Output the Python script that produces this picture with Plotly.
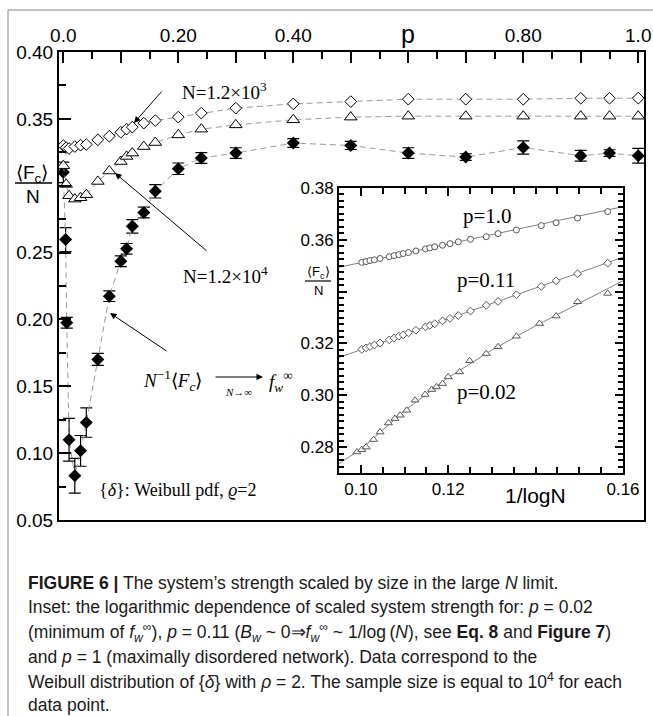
import plotly.graph_objects as go

# ---------------- data ----------------
# main plot: scaled strength vs p
p_open = [0, 0.005, 0.01, 0.02, 0.03, 0.04, 0.06, 0.08, 0.10, 0.11, 0.12, 0.14,
          0.16, 0.20, 0.24, 0.30, 0.40, 0.50, 0.60, 0.70, 0.80, 0.90, 0.95, 1.0]
f_n1e3 = [0.3300, 0.3285, 0.3278, 0.3293, 0.3303, 0.3308, 0.3343, 0.3370, 0.3400,
          0.3423, 0.3438, 0.3468, 0.3487, 0.3513, 0.3543, 0.3580, 0.3612, 0.3629,
          0.3647, 0.3647, 0.3647, 0.3654, 0.3654, 0.3655]
f_n1e4 = [0.3150, 0.3010, 0.2925, 0.2900, 0.2910, 0.2933, 0.3032, 0.3110, 0.3181,
          0.3219, 0.3244, 0.3293, 0.3323, 0.3380, 0.3423, 0.3455, 0.3493, 0.3513,
          0.3520, 0.3520, 0.3520, 0.3520, 0.3520, 0.3520]
p_inf = [0, 0.004, 0.006, 0.01, 0.02, 0.03, 0.04, 0.06, 0.08, 0.10, 0.11, 0.12,
         0.14, 0.16, 0.20, 0.24, 0.30, 0.40, 0.50, 0.60, 0.70, 0.80, 0.90, 0.95, 1.0]
f_inf = [0.3100, 0.2597, 0.1975, 0.1100, 0.0831, 0.1017, 0.1229, 0.1701, 0.2174,
         0.2435, 0.2528, 0.2696, 0.2800, 0.2958, 0.3127, 0.3207, 0.3244, 0.3319,
         0.3301, 0.3244, 0.3214, 0.3286, 0.3224, 0.3244, 0.3224]
f_inf_err = [0.0077, 0.009, 0.004, 0.016, 0.013, 0.0115, 0.011, 0.0045, 0.004,
             0.004, 0.004, 0.005, 0.004, 0.005, 0.0043, 0.004, 0.004, 0.0033,
             0.003, 0.004, 0.0025, 0.005, 0.004, 0.0025, 0.0055]

# inset: scaled strength vs 1/logN
x_c = [0.1002, 0.1012, 0.1021, 0.1031, 0.1044, 0.1065, 0.1076, 0.1087, 0.1097,
       0.1109, 0.1126, 0.1148, 0.1158, 0.1169, 0.1187, 0.1204, 0.1223, 0.1251,
       0.1287, 0.1314, 0.1356, 0.1413, 0.1447, 0.1496, 0.1565]
y_p10 = [0.3513, 0.3516, 0.3520, 0.3523, 0.3528, 0.3535, 0.3539, 0.3543, 0.3547,
         0.3551, 0.3557, 0.3565, 0.3569, 0.3573, 0.3579, 0.3585, 0.3592, 0.3602,
         0.3612, 0.3624, 0.3638, 0.3655, 0.3666, 0.3684, 0.3709]
y_p011 = [0.3177, 0.3183, 0.3188, 0.3194, 0.3202, 0.3214, 0.3221, 0.3228, 0.3233,
          0.3241, 0.3251, 0.3264, 0.3270, 0.3276, 0.3287, 0.3297, 0.3308, 0.3325,
          0.3347, 0.3362, 0.3388, 0.3420, 0.3442, 0.3469, 0.3510]
x_t = [0.0991, 0.1002, 0.1012, 0.1029, 0.1044, 0.1063, 0.1078, 0.1090, 0.1105,
       0.1124, 0.1147, 0.1162, 0.1173, 0.1187, 0.1200, 0.1226, 0.1249, 0.1287,
       0.1314, 0.1356, 0.1409, 0.1447, 0.1496, 0.1565]
y_p002 = [0.2781, 0.2790, 0.2800, 0.2829, 0.2858, 0.2893, 0.2910, 0.2923, 0.2942,
          0.2981, 0.3003, 0.3022, 0.3032, 0.3045, 0.3071, 0.3090, 0.3133, 0.3161,
          0.3187, 0.3228, 0.3277, 0.3306, 0.3361, 0.3393]
# fitted lines
fit_x = [0.095, 0.10, 0.11, 0.12, 0.13, 0.14, 0.15, 0.16]
fit_p10 = [0.3494, 0.3512, 0.3548, 0.3584, 0.3620, 0.3656, 0.3692, 0.3728]
fit_p011 = [0.3146, 0.3176, 0.3235, 0.3295, 0.3354, 0.3414, 0.3473, 0.3533]
fit_p002 = [0.2736, 0.2792, 0.2940, 0.3068, 0.3175, 0.3268, 0.3355, 0.3442]

main_xticks = [0.0, 0.1, 0.2, 0.3, 0.4, 0.5, 0.6, 0.7, 0.8, 0.9, 1.0]
main_xtext = ["0.0", "", "0.20", "", "0.40", "", "", "", "0.80", "", "1.0"]
main_yticks = [0.05, 0.10, 0.15, 0.20, 0.25, 0.30, 0.35, 0.40]
main_ytext = ["0.05", "0.10", "0.15", "0.20", "0.25", "", "0.35", "0.40"]
ins_xticks = [0.10, 0.12, 0.14, 0.16]
ins_xtext = ["0.10", "0.12", "", "0.16"]
ins_yticks = [0.28, 0.30, 0.32, 0.34, 0.36, 0.38]
ins_ytext = ["0.28", "0.30", "0.32", "", "0.36", "0.38"]

caption = [
    "<b>FIGURE 6 |</b> The system’s strength scaled by size in the large <i>N</i> limit.",
    "Inset: the logarithmic dependence of scaled system strength for: <i>p</i> = 0.02",
    "(minimum of <i>f</i><sub><i>w</i></sub><sup>∞</sup>), <i>p</i> = 0.11 (<i>B</i><sub><i>w</i></sub> ~ 0⇒<i>f</i><sub><i>w</i></sub><sup>∞</sup> ~ 1/log\u2009(<i>N</i>), see <b>Eq. 8</b> and <b>Figure 7</b>)",
    "and <i>p</i> = 1 (maximally disordered network). Data correspond to the",
    "Weibull distribution of {<i>δ</i>} with <i>ρ</i> = 2. The sample size is equal to 10<sup>4</sup> for each",
    "data point.",
]

# ---------------- layout helpers ----------------
W, H = 653, 716
ML, MR, MT, MB = 59, 9, 52, 196
PW = W - ML - MR
PH = H - MT - MB


def px(x):
    return (x - ML) / PW


def py(y):
    return (MT + PH - y) / PH


SANS = "Liberation Sans, Arial, sans-serif"
SERIF = "Liberation Serif, Times New Roman, serif"
DASH = "6px,4px"
GREY = "#9a9a9a"

fig = go.Figure()

fig.add_trace(go.Scatter(
    x=p_inf, y=f_inf, mode="lines+markers",
    line=dict(color=GREY, width=1, dash=DASH),
    marker=dict(symbol="diamond", size=10, color="black"),
    error_y=dict(type="data", array=f_inf_err, color="black", thickness=1.2, width=6),
    showlegend=False))
fig.add_trace(go.Scatter(
    x=p_open, y=f_n1e4, mode="lines+markers",
    line=dict(color=GREY, width=1, dash=DASH),
    marker=dict(symbol="triangle-up", size=11, color="white",
                line=dict(color="black", width=1)),
    showlegend=False))
fig.add_trace(go.Scatter(
    x=p_open, y=f_n1e3, mode="lines+markers",
    line=dict(color=GREY, width=1, dash=DASH),
    marker=dict(symbol="diamond", size=9, color="white",
                line=dict(color="black", width=1)),
    showlegend=False))

# inset
for fy in (fit_p10, fit_p011, fit_p002):
    fig.add_trace(go.Scatter(x=fit_x, y=fy, mode="lines", xaxis="x2", yaxis="y2",
                             line=dict(color="#808080", width=1), showlegend=False))
fig.add_trace(go.Scatter(x=x_c, y=y_p10, mode="markers", xaxis="x2", yaxis="y2",
                         marker=dict(symbol="circle", size=6, color="white",
                                     line=dict(color="#555", width=1)), showlegend=False))
fig.add_trace(go.Scatter(x=x_c, y=y_p011, mode="markers", xaxis="x2", yaxis="y2",
                         marker=dict(symbol="diamond", size=6, color="white",
                                     line=dict(color="#555", width=1)), showlegend=False))
fig.add_trace(go.Scatter(x=x_t, y=y_p002, mode="markers", xaxis="x2", yaxis="y2",
                         marker=dict(symbol="triangle-up", size=7, color="white",
                                     line=dict(color="#555", width=1)), showlegend=False))

axis_common = dict(showline=True, linecolor="black", linewidth=2, showgrid=False,
                   zeroline=False, ticks="inside", tickcolor="black", automargin=False)

fig.update_layout(
    width=W, height=H, margin=dict(l=ML, r=MR, t=MT, b=MB, pad=0, autoexpand=False),
    paper_bgcolor="white", plot_bgcolor="white",
    xaxis=dict(**axis_common, range=[-0.0075, 1.01], side="top", mirror=True,
               tickmode="array", tickvals=main_xticks, ticktext=main_xtext,
               ticklen=11, tickwidth=2,
               minor=dict(ticks="inside", ticklen=7, tickwidth=2, tickcolor="black",
                          tickvals=[0.05, 0.15, 0.25, 0.35, 0.45, 0.55, 0.65, 0.75, 0.85, 0.95]),
               tickfont=dict(family=SANS, size=19, color="black")),
    yaxis=dict(**axis_common, range=[0.05, 0.40], mirror=True,
               tickmode="array", tickvals=main_yticks, ticktext=main_ytext,
               ticklen=12, tickwidth=2,
               minor=dict(ticks="inside", ticklen=7, tickwidth=2, tickcolor="black",
                          tickvals=[0.075, 0.125, 0.175, 0.225, 0.275, 0.325, 0.375]),
               tickfont=dict(family=SANS, size=19, color="black")),
    xaxis2=dict(**axis_common, domain=[px(339), px(623)], anchor="y2",
                range=[0.095, 0.16], mirror="ticks",
                tickmode="array", tickvals=ins_xticks, ticktext=ins_xtext,
                ticklen=8, tickwidth=1.5,
                minor=dict(ticks="inside", ticklen=6, tickwidth=1.5, tickcolor="black",
                           tickvals=[0.10, 0.105, 0.11, 0.115, 0.12, 0.125, 0.13, 0.135,
                                     0.14, 0.145, 0.15, 0.155]),
                tickfont=dict(family=SANS, size=17, color="black")),
    yaxis2=dict(**axis_common, domain=[py(473), py(188)], anchor="x2",
                range=[0.27, 0.38], mirror="ticks",
                tickmode="array", tickvals=ins_yticks, ticktext=ins_ytext,
                ticklen=8, tickwidth=1.5,
                minor=dict(ticks="inside", ticklen=5, tickwidth=1.5, tickcolor="black",
                           tickvals=[0.2725, 0.275, 0.2775, 0.2825, 0.285, 0.2875,
                                     0.29, 0.2925, 0.295, 0.2975, 0.3025, 0.305, 0.3075,
                                     0.31, 0.3125, 0.315, 0.3175, 0.3225, 0.325, 0.3275,
                                     0.33, 0.3325, 0.335, 0.3375, 0.3425, 0.345, 0.3475,
                                     0.35, 0.3525, 0.355, 0.3575, 0.3625, 0.365, 0.3675,
                                     0.37, 0.3725, 0.375, 0.3775]),
                tickfont=dict(family=SANS, size=17, color="black")),
)

ann = []


def text(x, y, s, size, family=SERIF, xanchor="center", color="black"):
    ann.append(dict(x=px(x), y=py(y), xref="paper", yref="paper", text=s,
                    showarrow=False, xanchor=xanchor, yanchor="middle",
                    font=dict(family=family, size=size, color=color)))


def arrow(hx, hy, tx, ty):
    ann.append(dict(x=px(hx), y=py(hy), xref="paper", yref="paper", text="",
                    showarrow=True, ax=tx - hx, ay=ty - hy, arrowhead=2,
                    arrowsize=1.3, arrowwidth=1, arrowcolor="black", standoff=0))


# axis titles
text(32, 174, "⟨F<sub>c</sub>⟩", 19, SANS)
text(33, 196, "N", 19, SANS)
ann.append(dict(x=0.6, y=py(34), xref="x", yref="paper", text="p", showarrow=False,
                xanchor="center", yanchor="middle",
                font=dict(family=SANS, size=25, color="black")))
ann.append(dict(x=0.14, y=py(495), xref="x2", yref="paper", text="1/logN", showarrow=False,
                xanchor="center", yanchor="middle",
                font=dict(family=SANS, size=21, color="black")))
text(318, 272, "⟨F<sub>c</sub>⟩", 13, SANS)
text(318, 290, "N", 13, SANS)

# labels in main plot
text(224, 91, "N=1.2×10<sup>3</sup>", 19)
arrow(134, 123, 163, 90)
text(225, 275, "N=1.2×10<sup>4</sup>", 19)
arrow(115, 173, 208, 252)
arrow(110, 313, 168, 352)
text(172, 380, "<i>N</i><sup>−1</sup>⟨<i>F<sub>c</sub></i>⟩", 19)
arrow(263, 377, 214, 377)
text(238, 392, "<i>N</i>→∞", 11)
text(281, 381, "<i>f</i><sub><i>w</i></sub><sup>∞</sup>", 19)
text(97, 490, "{<i>δ</i>}: Weibull pdf, <i>ϱ</i>=2", 18, xanchor="left")

# inset labels
text(487, 216, "p=1.0", 21)
text(486, 280, "p=0.11", 21)
text(486, 392, "p=0.02", 21)

# caption
cap_y = [583, 607, 632, 657, 681, 705]
for yy, line in zip(cap_y, caption):
    text(26, yy, line, 17.5, SANS, xanchor="left", color="#1a1a1a")

fig.update_layout(annotations=ann)

shapes = [
    dict(type="line", xref="paper", yref="paper", x0=px(15), x1=px(52),
         y0=py(183), y1=py(183), line=dict(color="black", width=1.5)),
    dict(type="line", xref="paper", yref="paper", x0=px(305), x1=px(331),
         y0=py(281), y1=py(281), line=dict(color="black", width=1.2)),
    dict(type="line", xref="paper", yref="paper", x0=px(8), x1=px(8),
         y0=py(10), y1=py(716), line=dict(color="#888", width=1)),
    dict(type="line", xref="paper", yref="paper", x0=px(8), x1=px(653),
         y0=py(10), y1=py(10), line=dict(color="#888", width=1)),
]
fig.update_layout(shapes=shapes)

fig.write_html("out.html")
